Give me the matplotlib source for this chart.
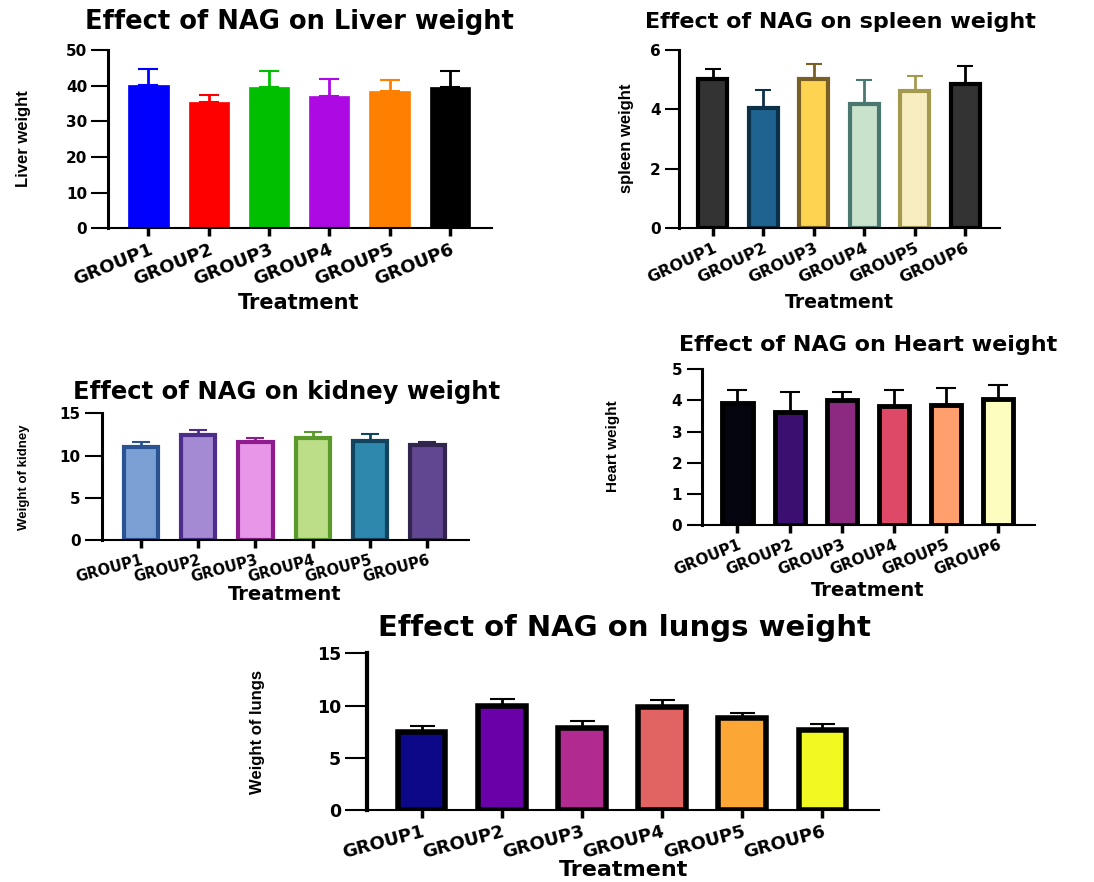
import matplotlib
matplotlib.use("Agg")
import matplotlib.pyplot as plt
import matplotlib.transforms as mtransforms
import numpy as np

W, H = 1094, 882

groups = ["GROUP1", "GROUP2", "GROUP3", "GROUP4", "GROUP5", "GROUP6"]

liver_mean = [40.2, 35.3, 39.5, 37.2, 38.5, 39.7]
liver_sd = [4.4, 2.2, 4.7, 4.7, 3.0, 4.5]
liver_fill = ["#0000ff", "#ff0000", "#00bf00", "#ad0ae3", "#ff8000", "#000000"]

spleen_mean = [5.01, 4.04, 5.02, 4.19, 4.62, 4.87]
spleen_sd = [0.34, 0.62, 0.52, 0.79, 0.51, 0.60]
spleen_fill = ["#333333", "#1f6391", "#fcd452", "#c8e2cc", "#f8edc0", "#333333"]
spleen_edge = ["#000000", "#0b3048", "#7a5f25", "#4a7770", "#a39a50", "#000000"]

kidney_mean = [11.05, 12.40, 11.60, 12.04, 11.76, 11.29]
kidney_sd = [0.52, 0.59, 0.44, 0.71, 0.75, 0.28]
kidney_fill = ["#7aa0d4", "#a48ad2", "#e897e8", "#bcde88", "#2e88ad", "#614791"]
kidney_edge = ["#2a5394", "#4d2d8a", "#8e1c8e", "#5a9a2a", "#124460", "#32254f"]

heart_mean = [3.91, 3.64, 4.01, 3.82, 3.85, 4.04]
heart_sd = [0.42, 0.63, 0.26, 0.51, 0.56, 0.45]
heart_fill = ["#050510", "#3b0f70", "#8c2981", "#de4968", "#fe9f6d", "#fcfdbf"]

lungs_mean = [7.47, 9.99, 7.82, 9.86, 8.84, 7.69]
lungs_sd = [0.60, 0.61, 0.67, 0.67, 0.48, 0.58]
lungs_fill = ["#0d0887", "#6a00a8", "#b12a90", "#e16462", "#fca636", "#f0f921"]

BOLD = "DejaVu Sans"
LABEL = "Liberation Sans"

fig = plt.figure(figsize=(W / 100, H / 100), dpi=100)
fig.patch.set_facecolor("white")


def fx(x):
    return x / W


def fy(y):
    return 1 - y / H


def panel(box, xlim, mean, sd, fill, edge, ecolor, ymax, yticks,
          bar_w, edge_w, capsize, title, title_xy, title_size,
          ylabel, ylabel_xy, ylabel_size, xlabel_xy, xlabel_size,
          ytick_size, xtick_size, xtick_rot, ytick_len, left_w=2.2,
          label_shift=4):
    left, right, top, bottom = box
    ax = fig.add_axes([fx(left), fy(bottom), fx(right - left), (bottom - top) / H])
    x = np.arange(len(groups))
    if isinstance(ecolor, str):
        ecolor = [ecolor] * len(groups)
    for xi, m, s, c in zip(x, mean, sd, ecolor):
        ax.errorbar([xi], [m], yerr=[[0], [s]], fmt="none", ecolor=c,
                    elinewidth=2.0, capsize=capsize, capthick=1.5, zorder=1)
    ax.bar(x, mean, width=bar_w, color=fill, edgecolor=edge,
           linewidth=edge_w, zorder=2)
    ax.set_xlim(*xlim)
    ax.set_ylim(0, ymax)
    ax.set_yticks(yticks)
    ax.set_xticks(x)
    ax.set_xticklabels(groups, rotation=xtick_rot, ha="right",
                       rotation_mode="anchor", fontsize=xtick_size,
                       fontweight="bold", family=BOLD)
    shift = mtransforms.ScaledTranslation(label_shift / 100, 0, fig.dpi_scale_trans)
    for lab in ax.get_xticklabels():
        lab.set_transform(lab.get_transform() + shift)
    for lab in ax.get_yticklabels():
        lab.set_fontsize(ytick_size)
        lab.set_fontweight("bold")
        lab.set_family(BOLD)
    for s in ("top", "right"):
        ax.spines[s].set_visible(False)
    ax.spines["left"].set_linewidth(left_w)
    ax.spines["bottom"].set_linewidth(1.5)
    ax.tick_params(axis="y", length=ytick_len, width=1.5, pad=3)
    ax.tick_params(axis="x", length=6, width=2.5, pad=3)
    ax.set_facecolor("none")
    fig.text(fx(title_xy[0]), fy(title_xy[1]), title, ha="center", va="center",
             fontsize=title_size, fontweight="bold", family=BOLD)
    fig.text(fx(ylabel_xy[0]), fy(ylabel_xy[1]), ylabel, ha="center", va="center",
             rotation=90, fontsize=ylabel_size, fontweight="bold", family=LABEL)
    fig.text(fx(xlabel_xy[0]), fy(xlabel_xy[1]), "Treatment", ha="center",
             va="center", fontsize=xlabel_size, fontweight="bold", family=BOLD)
    return ax


# Liver
panel((108, 492, 50, 228.3), (-0.671, 5.70), liver_mean, liver_sd,
      liver_fill, liver_fill, liver_fill, 50, [0, 10, 20, 30, 40, 50],
      0.67, 0.5, 7,
      "Effect of NAG on Liver weight", (299, 22), 18.5,
      "Liver weight", (23.5, 139), 12, (299, 303), 15,
      11, 13, 22, 12, label_shift=4)

# Spleen
panel((679, 1000, 50, 228.3), (-0.667, 5.69), spleen_mean, spleen_sd,
      spleen_fill, spleen_edge, spleen_edge, 6, [0, 2, 4, 6],
      0.58, 3, 6,
      "Effect of NAG on spleen weight", (840, 22), 16,
      "spleen weight", (627, 138), 12, (839, 303), 13.5,
      11, 11.5, 25, 10, label_shift=4)

# Kidney
panel((101.7, 469.3, 413.3, 540), (-0.682, 5.73), kidney_mean, kidney_sd,
      kidney_fill, kidney_edge, kidney_edge, 15, [0, 5, 10, 15],
      0.595, 3, 6.5,
      "Effect of NAG on kidney weight", (287, 392), 17.5,
      "Weight of kidney", (24, 477), 9.5, (285, 595), 14,
      11, 10.5, 15, 12, label_shift=6)

# Heart
panel((701.7, 1035, 369.3, 525), (-0.687, 5.71), heart_mean, heart_sd,
      heart_fill, "#000000", "#000000", 5, [0, 1, 2, 3, 4, 5],
      0.578, 3.5, 7,
      "Effect of NAG on Heart weight", (868, 345), 16,
      "Heart weight", (613, 446), 11, (868, 590), 14,
      11, 11, 22, 11, label_shift=4)

# Lungs
panel((367.3, 879.3, 653.3, 810), (-0.678, 5.71), lungs_mean, lungs_sd,
      lungs_fill, "#000000", "#000000", 15, [0, 5, 10, 15],
      0.595, 4, 9,
      "Effect of NAG on lungs weight", (624, 628), 21,
      "Weight of lungs", (257.5, 732), 12, (623.5, 870), 16,
      12.5, 13, 15, 16, left_w=3, label_shift=4)

fig.savefig("out.png", dpi=100, facecolor="white")
